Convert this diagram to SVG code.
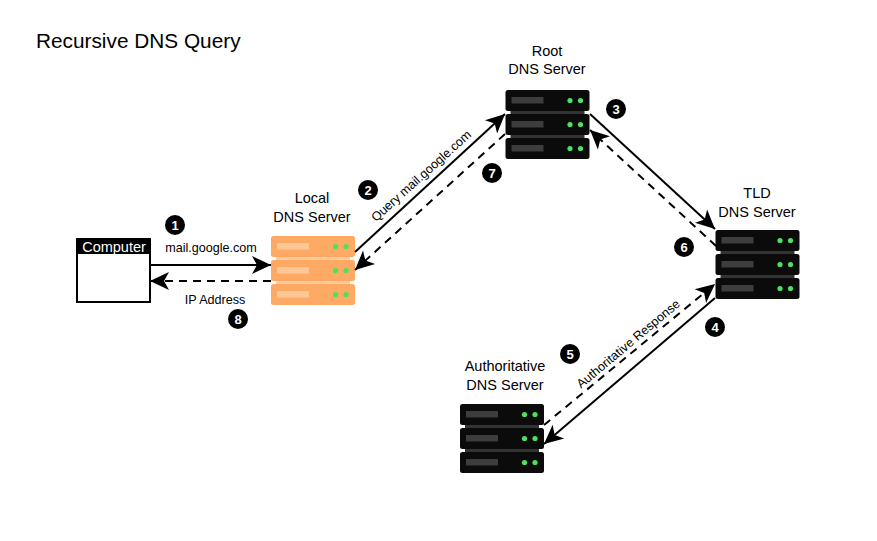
<svg xmlns="http://www.w3.org/2000/svg" width="877" height="541" viewBox="0 0 877 541">
<style>
text{font-family:"Liberation Sans",Arial,sans-serif;fill:#000}
.l{font-size:14.500px;text-anchor:middle}
.s{font-size:12.600px;text-anchor:middle}
.n{font-size:13px;font-weight:bold;text-anchor:middle;fill:#fff}
.c{stroke:#000;stroke-width:2;fill:none;marker-end:url(#a)}
.d{stroke-dasharray:8 6}
.dark{--b:#0b0b0b;--j:#333;--p:#3d3d3d}
.or{--b:#ffaa64;--j:#ffc99a;--p:#ffc795}
.b{fill:var(--b)}.j{fill:var(--j)}.p{fill:var(--p)}
.g{fill:#4be05f}
</style>
<defs>
<marker id="a" markerUnits="userSpaceOnUse" markerWidth="24" markerHeight="24" refX="20" refY="12" orient="auto">
<path d="M1 3L20 12L1 21L6 12Z" fill="#000"/>
</marker>
<g id="srv">
<rect class="j" x="5" y="18" width="74" height="8"/>
<rect class="j" x="5" y="42" width="74" height="8"/>
<rect class="b" x="0" y="0" width="84" height="21" rx="2.500"/>
<rect class="b" x="0" y="24" width="84" height="21" rx="2.500"/>
<rect class="b" x="0" y="48" width="84" height="21" rx="2.500"/>
<rect class="p" x="6" y="7" width="32" height="6.500"/>
<rect class="p" x="6" y="31" width="32" height="6.500"/>
<rect class="p" x="6" y="55" width="32" height="6.500"/>
<circle class="g" cx="64.500" cy="10.500" r="2.600"/><circle class="g" cx="75" cy="10.500" r="2.600"/>
<circle class="g" cx="64.500" cy="34.500" r="2.600"/><circle class="g" cx="75" cy="34.500" r="2.600"/>
<circle class="g" cx="64.500" cy="58.500" r="2.600"/><circle class="g" cx="75" cy="58.500" r="2.600"/>
</g>
</defs>
<rect width="877" height="541" fill="#fff"/>
<text x="36" y="48" font-size="20.800">Recursive DNS Query</text>
<g id="computer">
<rect x="77" y="239" width="73" height="63" fill="#fff" stroke="#000" stroke-width="2"/>
<rect x="77" y="239" width="73" height="15" fill="#000"/>
<text x="114" y="252" class="l" style="fill:#fff">Computer</text>
</g>
<g id="local" class="or"><use href="#srv" x="271" y="236"/><text class="l" x="312" y="203">Local</text><text class="l" x="312" y="222">DNS Server</text></g>
<g id="root" class="dark"><use href="#srv" x="505.500" y="90"/><text class="l" x="547" y="56">Root</text><text class="l" x="547" y="74">DNS Server</text></g>
<g id="tld" class="dark"><use href="#srv" x="715.500" y="230"/><text class="l" x="757" y="198">TLD</text><text class="l" x="757" y="217">DNS Server</text></g>
<g id="auth" class="dark"><use href="#srv" x="460" y="404"/><text class="l" x="505" y="371">Authoritative</text><text class="l" x="505" y="390">DNS Server</text></g>
<g id="connectors">
<path class="c" d="M150 265H271"/>
<path class="c d" d="M271 281H150"/>
<path class="c" d="M355 252L505 114"/>
<path class="c d" d="M505 134L355 270"/>
<path class="c" d="M590 114L715 229"/>
<path class="c d" d="M716 246L590 130"/>
<path class="c" d="M715 298L544 444"/>
<path class="c d" d="M544 425L715 284"/>
</g>
<g id="labels">
<text class="s" x="211" y="252">mail.google.com</text>
<text class="s" x="215" y="304">IP Address</text>
<text class="s" transform="translate(424 179) rotate(-42)">Query mail.google.com</text>
<text class="s" transform="translate(631 347) rotate(-40)">Authoritative Response</text>
</g>
<g id="badges">
<circle cx="175" cy="225" r="10"/><text class="n" x="175" y="229.500">1</text>
<circle cx="368" cy="190" r="10"/><text class="n" x="368" y="194.500">2</text>
<circle cx="616" cy="109" r="10"/><text class="n" x="616" y="113.500">3</text>
<circle cx="715" cy="327" r="10"/><text class="n" x="715" y="331.500">4</text>
<circle cx="570" cy="354" r="10"/><text class="n" x="570" y="358.500">5</text>
<circle cx="684" cy="247" r="10"/><text class="n" x="684" y="251.500">6</text>
<circle cx="492" cy="173" r="10"/><text class="n" x="492" y="177.500">7</text>
<circle cx="238" cy="319" r="10"/><text class="n" x="238" y="323.500">8</text>
</g>
</svg>
